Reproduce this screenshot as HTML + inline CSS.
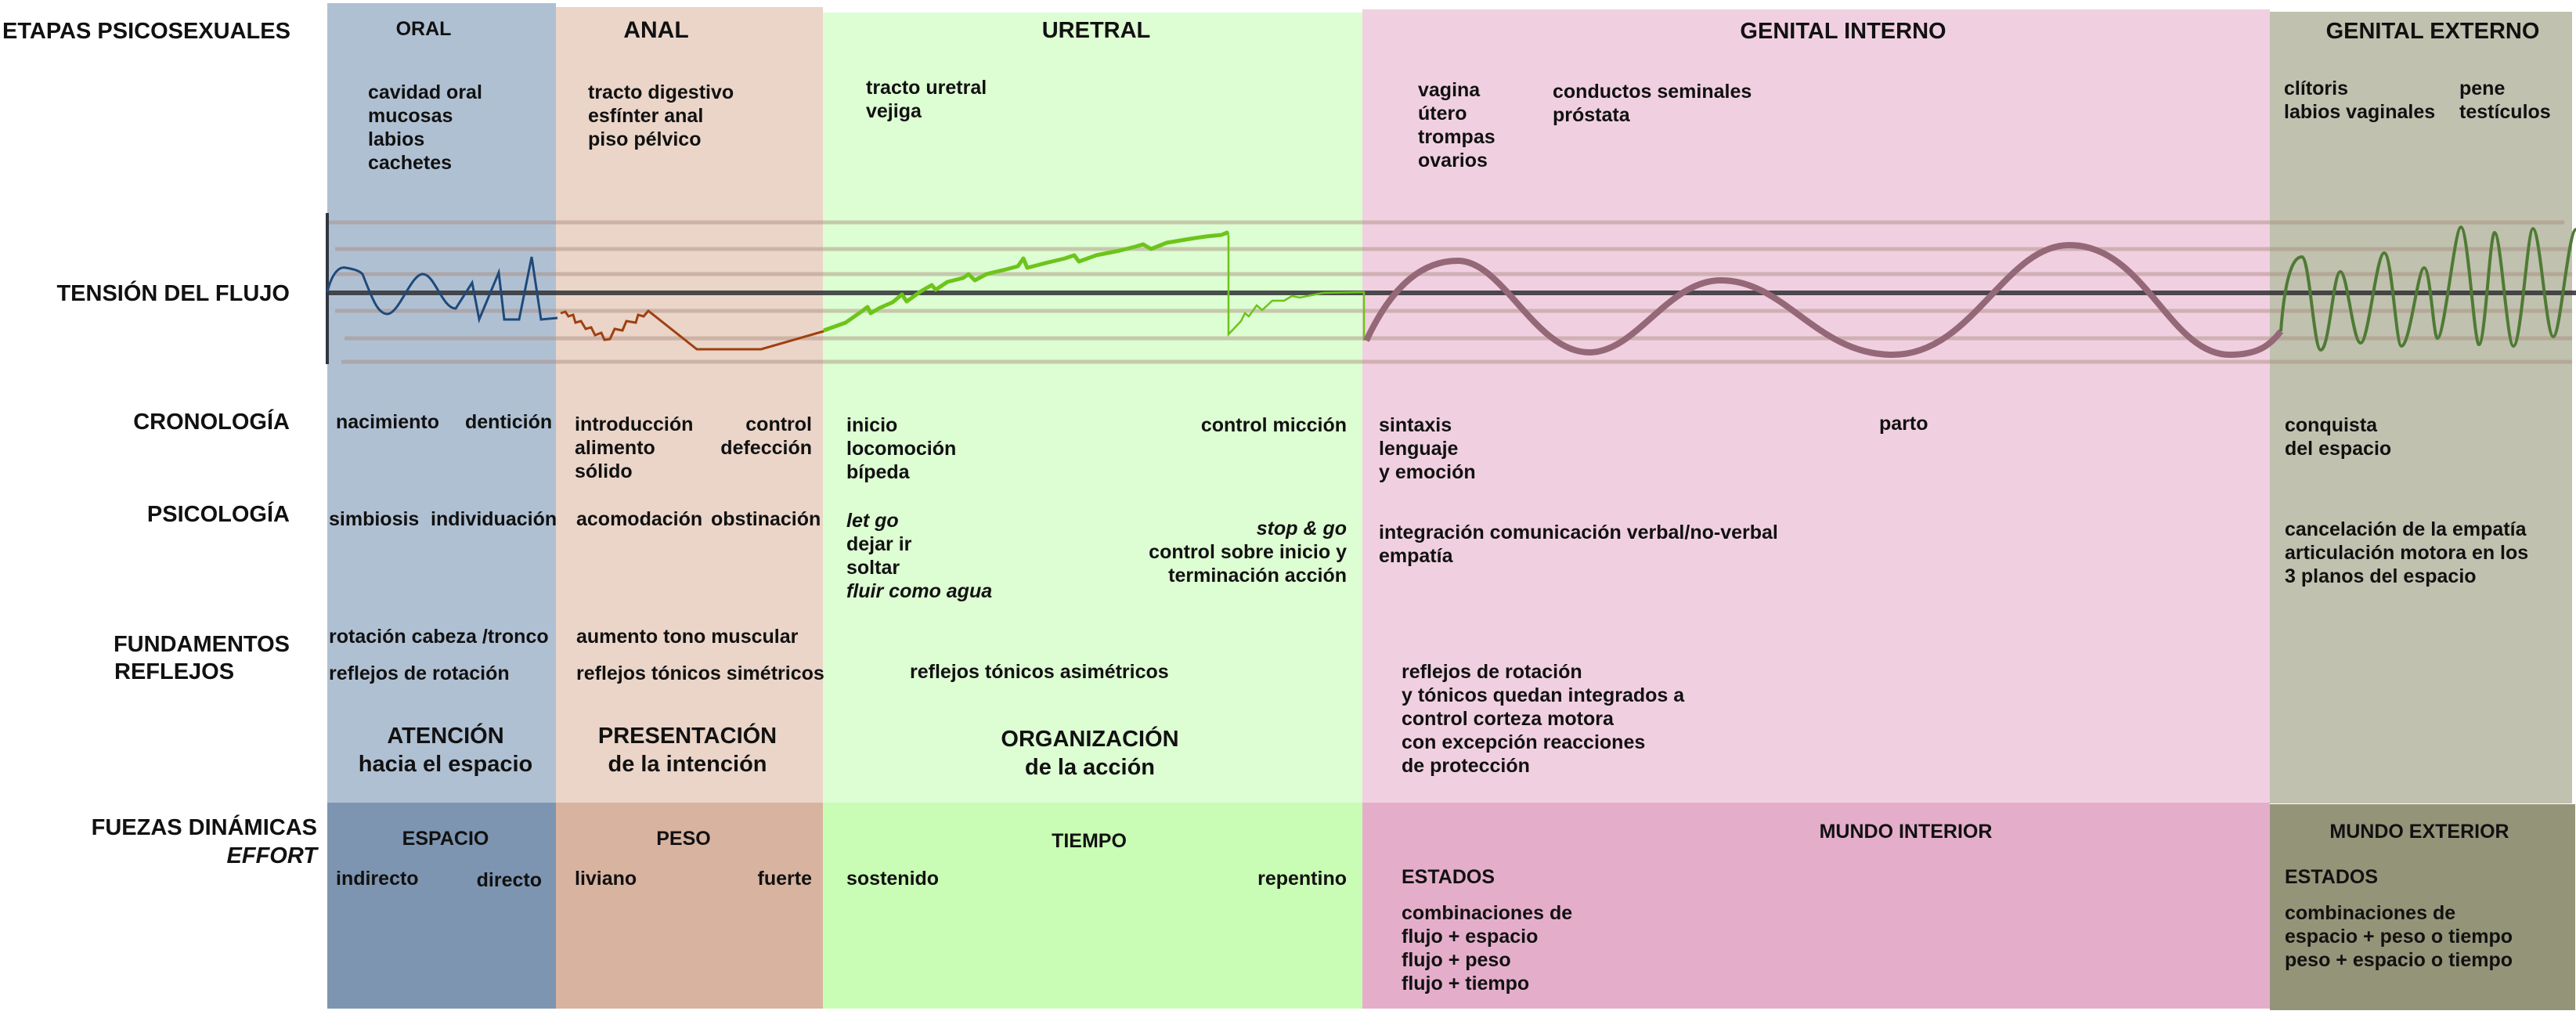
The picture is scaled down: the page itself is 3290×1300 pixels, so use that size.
<!DOCTYPE html>
<html><head><meta charset="utf-8"><style>
*{margin:0;padding:0}
body{width:3290px;height:1300px;background:#fff;position:relative;overflow:hidden;font-family:"Liberation Sans",Arial,sans-serif;font-weight:bold;color:#111}
.c{position:absolute}
.t{position:absolute;white-space:nowrap;font-size:25px;line-height:30px}
.r{text-align:right}
.h{font-size:29px}
.i{font-style:italic}
.ctr{transform:translateX(-50%);text-align:center}
.rt{transform:translateX(-100%)}
</style></head><body>
<!-- columns -->
<div class="c" style="left:418px;top:4px;width:292px;height:1022px;background:#b0c0d3"></div>
<div class="c" style="left:710px;top:9px;width:341px;height:1017px;background:#ead5c8"></div>
<div class="c" style="left:1051px;top:16px;width:689px;height:1010px;background:#ddfdd3"></div>
<div class="c" style="left:1740px;top:12px;width:1159px;height:1014px;background:#f0d0e0"></div>
<div class="c" style="left:2899px;top:15px;width:386px;height:1011px;background:#c0c1af"></div>
<div class="c" style="left:418px;top:1025px;width:292px;height:263px;background:#7d95b1"></div>
<div class="c" style="left:710px;top:1025px;width:341px;height:263px;background:#d8b3a0"></div>
<div class="c" style="left:1051px;top:1025px;width:689px;height:263px;background:#c9fdb5"></div>
<div class="c" style="left:1740px;top:1025px;width:1159px;height:263px;background:#e4aecb"></div>
<div class="c" style="left:2899px;top:1027px;width:390px;height:263px;background:#949479"></div>

<svg class="c" style="left:0;top:0" width="3290" height="1300" viewBox="0 0 3290 1300">
<g stroke="#a88a7a" stroke-opacity="0.45" stroke-width="5">
<line x1="418" y1="284" x2="3275" y2="284"/>
<line x1="428" y1="318" x2="3285" y2="318"/>
<line x1="428" y1="350" x2="3285" y2="350"/>
<line x1="428" y1="397" x2="3285" y2="397"/>
<line x1="440" y1="432" x2="3285" y2="432"/>
<line x1="436" y1="462" x2="3285" y2="462"/>
</g>
<line x1="418" y1="374" x2="3290" y2="374" stroke="#2f2f33" stroke-width="6" stroke-opacity="0.85"/>
<line x1="418" y1="272" x2="418" y2="465" stroke="#2f3540" stroke-width="4"/>
<!-- oral -->
<path d="M418,373 C425,345 435,340 442,342 C452,344 458,345 463,350 C475,380 482,401 495,401 C510,400 525,350 540,350 C555,350 565,394 582,394 L603,361 L612,408 L637,348 L644,408 L663,408 L679,328 L691,408 L712,406" fill="none" stroke="#1e4a7a" stroke-width="3"/>
<!-- anal -->
<path d="M716,400 L722,398 L726,404 L732,402 L735,412 L742,410 L748,420 L755,418 L760,428 L768,425 L772,434 L779,433 L785,420 L795,422 L800,410 L812,412 L815,402 L822,404 L828,397 L890,446 L972,446 L1052,423" fill="none" stroke="#a04010" stroke-width="3"/>
<!-- uretral -->
<path d="M1052,422 L1080,412 L1100,398 L1108,392 L1112,400 L1124,393 L1140,386 L1152,376 L1158,385 L1176,372 L1190,364 L1195,370 L1210,360 L1230,355 L1237,350 L1245,358 L1260,350 L1285,344 L1300,340 L1307,330 L1312,342 L1335,336 L1360,330 L1372,326 L1378,334 L1400,326 L1430,320 L1450,315 L1460,312 L1470,318 L1490,310 L1520,305 L1540,302 L1560,300 L1567,297 L1568,300" fill="none" stroke="#6dc41a" stroke-width="5" stroke-linejoin="round"/>
<path d="M1569,300 L1569,427 L1585,410 L1590,400 L1595,404 L1605,390 L1612,396 L1625,384 L1640,384 L1650,378 L1660,380 L1690,374 L1742,373 L1742,435" fill="none" stroke="#6dc41a" stroke-width="2.5"/>
<!-- genital interno -->
<path d="M1745,435 C1780,360 1820,333 1862,333 C1920,333 1960,450 2030,450 C2090,450 2130,358 2198,358 C2280,358 2320,453 2417,453 C2520,453 2560,313 2643,313 C2740,313 2770,453 2848,453 C2885,453 2900,440 2913,423" fill="none" stroke="#956878" stroke-width="8"/>
<!-- genital externo -->
<path d="M2913,423 C2920,330 2935,328 2940,328 C2950,330 2955,447 2964,447 C2975,447 2980,347 2989,347 C2998,347 3005,438 3015,438 C3025,438 3035,323 3045,323 C3055,323 3060,442 3067,442 C3078,442 3088,342 3096,342 C3104,342 3108,432 3113,432 C3122,432 3135,290 3143,290 C3152,290 3160,440 3166,440 C3174,440 3180,297 3186,297 C3194,297 3202,442 3210,442 C3220,442 3228,292 3235,292 C3244,292 3252,430 3261,430 C3270,430 3280,293 3290,293" fill="none" stroke="#4f7a35" stroke-width="4"/>
</svg>

<!-- left labels -->
<div class="t h" style="left:3px;top:25px">ETAPAS PSICOSEXUALES</div>
<div class="t h rt" style="left:370px;top:360px">TENSIÓN DEL FLUJO</div>
<div class="t h rt" style="left:370px;top:524px">CRONOLOGÍA</div>
<div class="t h rt" style="left:370px;top:642px">PSICOLOGÍA</div>
<div class="t h rt" style="left:370px;top:808px">FUNDAMENTOS</div>
<div class="t h" style="left:146px;top:843px">REFLEJOS</div>
<div class="t h rt" style="left:405px;top:1042px">FUEZAS DINÁMICAS</div>
<div class="t h i rt" style="left:405px;top:1078px">EFFORT</div>

<!-- column headers -->
<div class="t ctr" style="left:541px;top:22px;font-size:25px">ORAL</div>
<div class="t ctr" style="left:838px;top:24px;font-size:30px">ANAL</div>
<div class="t ctr" style="left:1400px;top:24px;font-size:29px">URETRAL</div>
<div class="t ctr" style="left:2354px;top:25px;font-size:29px">GENITAL INTERNO</div>
<div class="t ctr" style="left:3107px;top:25px;font-size:29px">GENITAL EXTERNO</div>

<!-- organs -->
<div class="t" style="left:470px;top:103px">cavidad oral<br>mucosas<br>labios<br>cachetes</div>
<div class="t" style="left:751px;top:103px">tracto digestivo<br>esfínter anal<br>piso pélvico</div>
<div class="t" style="left:1106px;top:97px">tracto uretral<br>vejiga</div>
<div class="t" style="left:1811px;top:100px">vagina<br>útero<br>trompas<br>ovarios</div>
<div class="t" style="left:1983px;top:102px">conductos seminales<br>próstata</div>
<div class="t" style="left:2917px;top:98px">clítoris<br>labios vaginales</div>
<div class="t" style="left:3141px;top:98px">pene<br>testículos</div>

<!-- cronologia -->
<div class="t" style="left:429px;top:524px">nacimiento</div>
<div class="t" style="left:594px;top:524px">dentición</div>
<div class="t" style="left:734px;top:527px">introducción<br>alimento<br>sólido</div>
<div class="t r rt" style="left:1037px;top:527px">control<br>defección</div>
<div class="t" style="left:1081px;top:528px">inicio<br>locomoción<br>bípeda</div>
<div class="t rt" style="left:1720px;top:528px">control micción</div>
<div class="t" style="left:1761px;top:528px">sintaxis<br>lenguaje<br>y emoción</div>
<div class="t" style="left:2400px;top:526px">parto</div>
<div class="t" style="left:2918px;top:528px">conquista<br>del espacio</div>

<!-- psicologia -->
<div class="t" style="left:420px;top:648px">simbiosis</div>
<div class="t" style="left:550px;top:648px">individuación</div>
<div class="t" style="left:736px;top:648px">acomodación</div>
<div class="t" style="left:908px;top:648px">obstinación</div>
<div class="t" style="left:1081px;top:650px"><span class="i">let go</span><br>dejar ir<br>soltar<br><span class="i">fluir como agua</span></div>
<div class="t r rt" style="left:1720px;top:660px"><span class="i">stop &amp; go</span><br>control sobre inicio y<br>terminación acción</div>
<div class="t" style="left:1761px;top:665px">integración comunicación verbal/no-verbal<br>empatía</div>
<div class="t" style="left:2918px;top:661px">cancelación de la empatía<br>articulación motora en los<br>3 planos del espacio</div>

<!-- fundamentos -->
<div class="t" style="left:420px;top:798px">rotación cabeza /tronco</div>
<div class="t" style="left:420px;top:845px">reflejos de rotación</div>
<div class="t" style="left:736px;top:798px">aumento tono muscular</div>
<div class="t" style="left:736px;top:845px">reflejos tónicos simétricos</div>
<div class="t" style="left:1162px;top:843px">reflejos tónicos asimétricos</div>
<div class="t" style="left:1790px;top:843px">reflejos de rotación<br>y tónicos quedan integrados a<br>control corteza motora<br>con excepción reacciones<br>de protección</div>

<!-- big -->
<div class="t ctr" style="left:569px;top:922px;font-size:29px;line-height:36px">ATENCIÓN<br>hacia el espacio</div>
<div class="t ctr" style="left:878px;top:922px;font-size:29px;line-height:36px">PRESENTACIÓN<br>de la intención</div>
<div class="t ctr" style="left:1392px;top:926px;font-size:29px;line-height:36px">ORGANIZACIÓN<br>de la acción</div>

<!-- bottom -->
<div class="t ctr" style="left:569px;top:1056px">ESPACIO</div>
<div class="t ctr" style="left:873px;top:1056px">PESO</div>
<div class="t ctr" style="left:1391px;top:1059px">TIEMPO</div>
<div class="t ctr" style="left:2434px;top:1047px">MUNDO INTERIOR</div>
<div class="t ctr" style="left:3090px;top:1047px">MUNDO EXTERIOR</div>
<div class="t" style="left:429px;top:1107px">indirecto</div>
<div class="t rt" style="left:692px;top:1109px">directo</div>
<div class="t" style="left:734px;top:1107px">liviano</div>
<div class="t rt" style="left:1037px;top:1107px">fuerte</div>
<div class="t" style="left:1081px;top:1107px">sostenido</div>
<div class="t rt" style="left:1720px;top:1107px">repentino</div>
<div class="t" style="left:1790px;top:1105px">ESTADOS</div>
<div class="t" style="left:1790px;top:1151px">combinaciones de<br>flujo + espacio<br>flujo + peso<br>flujo + tiempo</div>
<div class="t" style="left:2918px;top:1105px">ESTADOS</div>
<div class="t" style="left:2918px;top:1151px">combinaciones de<br>espacio + peso o tiempo<br>peso + espacio o tiempo</div>
</body></html>
